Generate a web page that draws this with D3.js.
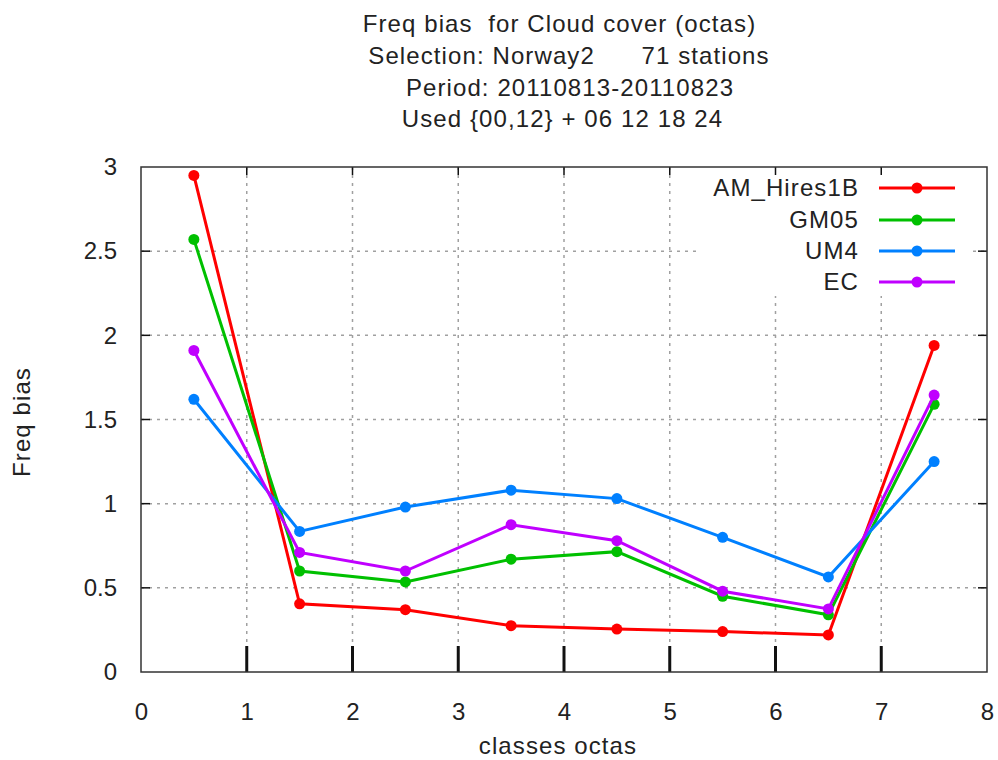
<!DOCTYPE html>
<html>
<head>
<meta charset="utf-8">
<script src="https://cdn.jsdelivr.net/npm/d3@7"></script>
<style>
  body { margin: 0; background: #fff; }
  svg text { font-family: "Liberation Sans", Arial, sans-serif; fill: #222; font-size: 24px; }
  .lbl { letter-spacing: 1.1px; }
</style>
</head>
<body>
<svg id="chart" width="998" height="760"></svg>
<script>
const titleLines = [
    'Freq bias  for Cloud cover (octas)',
    'Selection: Norway2      71 stations',
    'Period: 20110813-20110823',
    'Used {00,12} + 06 12 18 24'
];
const classes = [0.5, 1.5, 2.5, 3.5, 4.5, 5.5, 6.5, 7.5];
const seriesNames = ['AM_Hires1B', 'GM05', 'UM4', 'EC'];
const seriesColors = ['#ff0000', '#00c000', '#0080ff', '#c000ff'];
const amHires1B = [2.95, 0.405, 0.37, 0.275, 0.255, 0.24, 0.22, 1.94];
const gm05 = [2.57, 0.60, 0.535, 0.67, 0.715, 0.45, 0.34, 1.59];
const um4 = [1.62, 0.835, 0.98, 1.08, 1.03, 0.80, 0.565, 1.25];
const ec = [1.91, 0.71, 0.60, 0.875, 0.78, 0.48, 0.375, 1.645];
const xTicks = [0, 1, 2, 3, 4, 5, 6, 7, 8];
const yTicks = [0, 0.5, 1, 1.5, 2, 2.5, 3];

const allSeries = [amHires1B, gm05, um4, ec];

const svg = d3.select('#chart');
const plotLeft = 141, plotRight = 987, plotTop = 167, plotBottom = 672;

const x = d3.scaleLinear().domain([0, 8]).range([plotLeft, plotRight]);
const y = d3.scaleLinear().domain([0, 3]).range([plotBottom, plotTop]);

// grid
const grid = svg.append('g')
    .attr('stroke', '#a0a0a0')
    .attr('stroke-width', 1.5)
    .attr('stroke-dasharray', '3,5');
grid.selectAll('.vg').data(xTicks.slice(1, -1)).enter().append('line')
    .attr('x1', d => x(d)).attr('x2', d => x(d))
    .attr('y1', plotTop).attr('y2', plotBottom);
grid.selectAll('.hg').data(yTicks.slice(1, -1)).enter().append('line')
    .attr('x1', plotLeft).attr('x2', plotRight)
    .attr('y1', d => y(d)).attr('y2', d => y(d));

// legend background hides grid
svg.append('rect')
    .attr('x', 697).attr('y', plotTop + 1)
    .attr('width', 272).attr('height', 128)
    .attr('fill', '#fff');

// axes
svg.append('g')
    .attr('transform', `translate(0,${plotBottom})`)
    .call(d3.axisBottom(x).tickValues(xTicks).tickSize(0).tickPadding(31).tickFormat(d3.format('d')))
    .call(g => g.select('.domain').remove())
    .selectAll('text')
    .style('font-size', '24px')
    .style('font-family', '"Liberation Sans", Arial, sans-serif')
    .attr('fill', '#222');

svg.append('g')
    .attr('transform', `translate(${plotLeft},0)`)
    .call(d3.axisLeft(y).tickValues(yTicks).tickSize(0).tickPadding(24).tickFormat(d => d))
    .call(g => g.select('.domain').remove())
    .selectAll('text')
    .style('font-size', '24px')
    .style('font-family', '"Liberation Sans", Arial, sans-serif')
    .attr('fill', '#222');

// tick marks
const ticks = svg.append('g').attr('stroke', '#111');
ticks.selectAll('.bt').data(xTicks.slice(1, -1)).enter().append('line')
    .attr('x1', d => x(d)).attr('x2', d => x(d))
    .attr('y1', plotBottom).attr('y2', plotBottom - 26)
    .attr('stroke-width', 3);
ticks.selectAll('.tt').data(xTicks.slice(1, -1)).enter().append('line')
    .attr('x1', d => x(d)).attr('x2', d => x(d))
    .attr('y1', plotTop).attr('y2', plotTop + 8)
    .attr('stroke-width', 1.5);
ticks.selectAll('.lt').data(yTicks.slice(1, -1)).enter().append('line')
    .attr('x1', plotLeft).attr('x2', plotLeft + 9)
    .attr('y1', d => y(d)).attr('y2', d => y(d))
    .attr('stroke-width', 1.5);
ticks.selectAll('.rt').data(yTicks.slice(1, -1)).enter().append('line')
    .attr('x1', plotRight).attr('x2', plotRight - 9)
    .attr('y1', d => y(d)).attr('y2', d => y(d))
    .attr('stroke-width', 1.5);

// border
svg.append('rect')
    .attr('x', plotLeft).attr('y', plotTop)
    .attr('width', plotRight - plotLeft).attr('height', plotBottom - plotTop)
    .attr('fill', 'none').attr('stroke', '#333').attr('stroke-width', 1.5);

// series
const line = d3.line().x((d, i) => x(classes[i])).y(d => y(d));
allSeries.forEach((vals, si) => {
    const g = svg.append('g');
    g.append('path')
        .datum(vals)
        .attr('fill', 'none')
        .attr('stroke', seriesColors[si])
        .attr('stroke-width', 3)
        .attr('d', line);
    g.selectAll('circle').data(vals).enter().append('circle')
        .attr('cx', (d, i) => x(classes[i]))
        .attr('cy', d => y(d))
        .attr('r', 5.5)
        .attr('fill', seriesColors[si]);
});

// legend
const legendY = [188, 220, 251, 282];
seriesNames.forEach((name, i) => {
    svg.append('text')
        .attr('class', 'lbl')
        .attr('x', 859).attr('y', legendY[i])
        .attr('dy', '0.35em')
        .attr('text-anchor', 'end')
        .text(name);
    svg.append('line')
        .attr('x1', 879).attr('x2', 955)
        .attr('y1', legendY[i]).attr('y2', legendY[i])
        .attr('stroke', seriesColors[i]).attr('stroke-width', 3);
    svg.append('circle')
        .attr('cx', 917).attr('cy', legendY[i]).attr('r', 5.5)
        .attr('fill', seriesColors[i]);
});

// titles
const titleCenter = [559.5, 569, 570, 562.5];
const titleBase = [32, 64, 96, 127];
svg.selectAll('.title').data(titleLines).enter().append('text')
    .attr('class', 'lbl')
    .attr('x', (d, i) => titleCenter[i])
    .attr('y', (d, i) => titleBase[i])
    .attr('text-anchor', 'middle')
    .style('white-space', 'pre')
    .attr('xml:space', 'preserve')
    .text(d => d);

svg.append('text')
    .attr('class', 'lbl')
    .attr('transform', 'translate(30,422) rotate(-90)')
    .attr('text-anchor', 'middle')
    .text('Freq bias');

svg.append('text')
    .attr('class', 'lbl')
    .attr('x', 558).attr('y', 754)
    .attr('text-anchor', 'middle')
    .text('classes octas');
</script>
</body>
</html>
